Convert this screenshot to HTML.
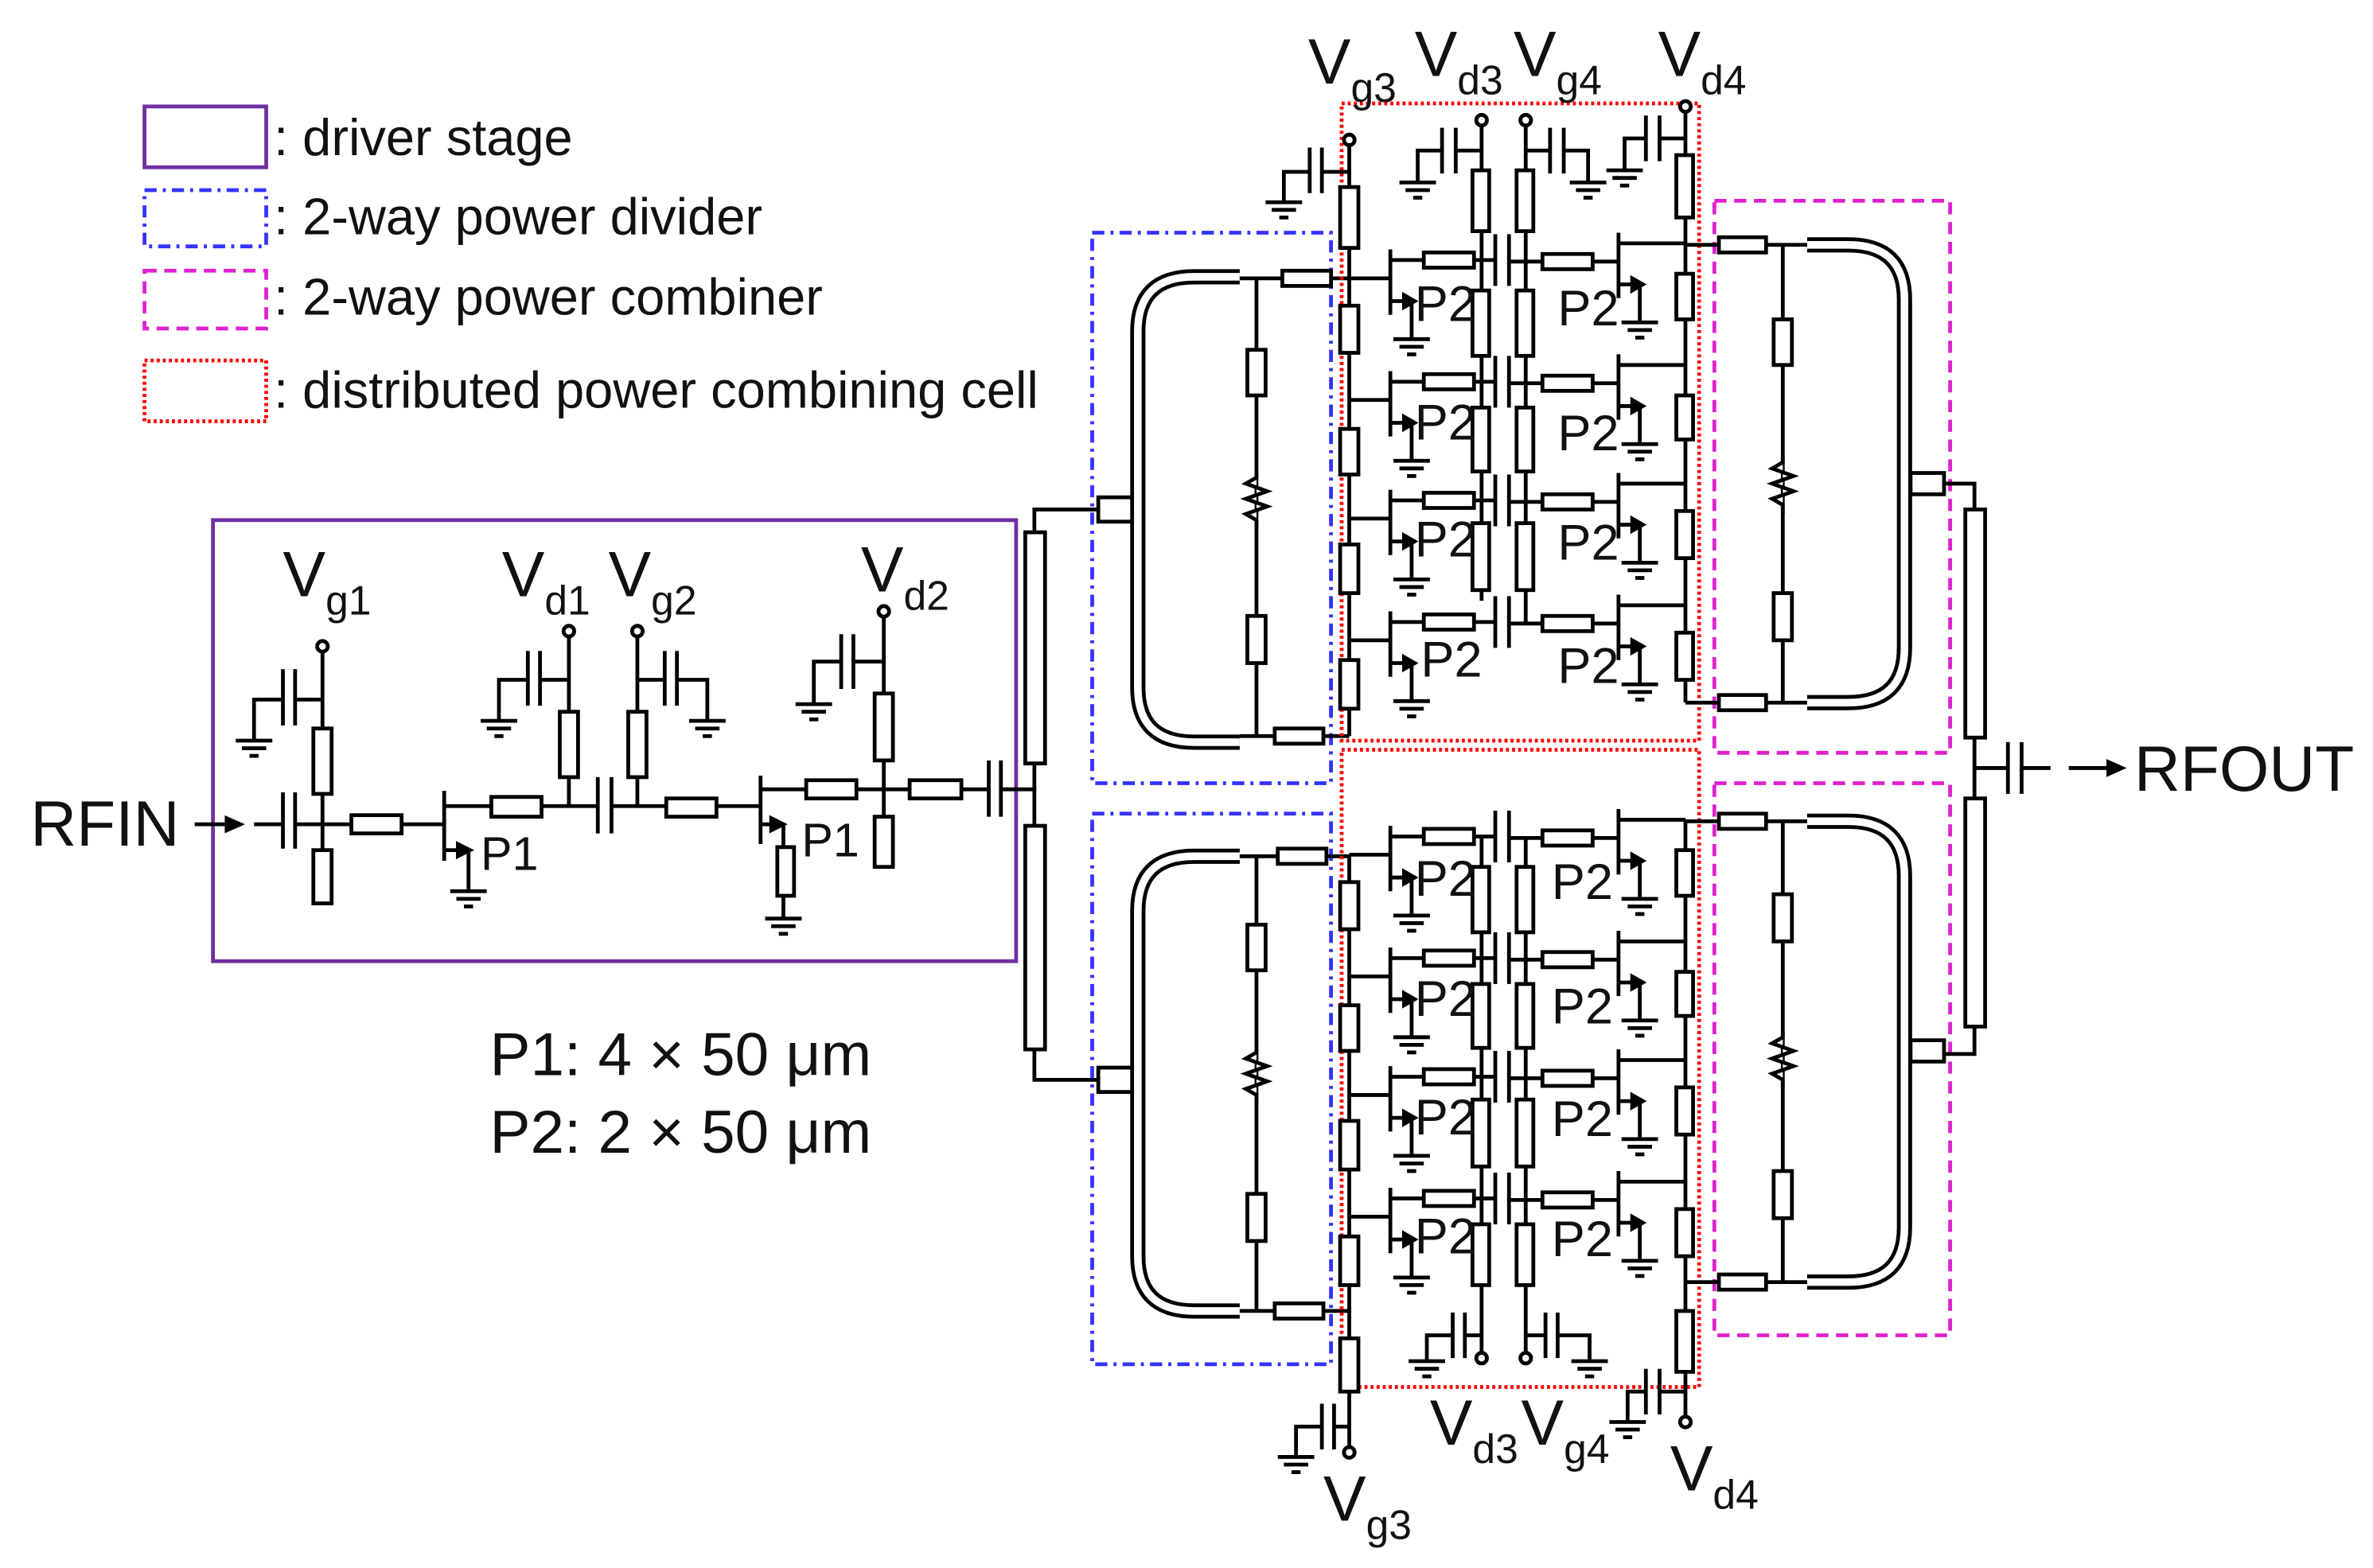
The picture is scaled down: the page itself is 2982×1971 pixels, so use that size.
<!DOCTYPE html>
<html><head><meta charset="utf-8"><style>
html,body{margin:0;padding:0;background:#fff}
svg{display:block}
text{font-family:"Liberation Sans",Arial,sans-serif;fill:#111}
</style></head><body>
<svg width="2982" height="1971" viewBox="0 0 1560 1031" preserveAspectRatio="none" xmlns="http://www.w3.org/2000/svg">
<defs>
<g id="gnd" stroke="#000" stroke-width="2.5"><line x1="-12" y1="0" x2="12" y2="0"/><line x1="-8" y1="5" x2="8" y2="5"/><line x1="-3" y1="10" x2="3" y2="10"/></g>
<g id="tr" stroke="#000" stroke-width="2.5" fill="none"><line x1="0" y1="-19" x2="0" y2="24"/><line x1="0" y1="15" x2="10" y2="15"/><polygon points="16,15 9,11 9,19" fill="#000"/><line x1="14" y1="15" x2="14" y2="40"/><use href="#gnd" x="14" y="40"/></g>
<g id="row" stroke="#000" stroke-width="2.5" fill="none">
 <line x1="887" y1="0" x2="914" y2="0"/>
 <use href="#tr" x="914" y="0"/>
 <line x1="914" y1="-12" x2="983" y2="-12"/>
 <rect x="936" y="-17" width="33" height="10" fill="#fff"/>
 <line x1="983" y1="-29" x2="983" y2="5"/><line x1="992" y1="-29" x2="992" y2="5"/>
 <line x1="992" y1="-11" x2="1064" y2="-11"/>
 <rect x="1014" y="-16" width="33" height="10" fill="#fff"/>
 <use href="#tr" x="1064" y="-11"/>
 <line x1="1064" y1="-23" x2="1108" y2="-23"/>
</g>
</defs>
<g stroke="#000" stroke-width="2.5" fill="none">
<!-- legend -->
<rect x="95" y="70" width="80" height="40" stroke="#7030a0"/>
<rect x="95" y="125" width="80" height="37" stroke="#3333ff" stroke-dasharray="8,4,2,4"/>
<rect x="95" y="178" width="80" height="38" stroke="#e020d0" stroke-dasharray="8,5"/>
<rect x="95" y="237" width="80" height="40" stroke="#ff0000" stroke-dasharray="2,2"/>
<!-- driver box -->
<rect x="140" y="342" width="528" height="290" stroke="#7030a0"/>
<!-- RFIN arrow -->
<line x1="128" y1="542" x2="150" y2="542"/><polygon points="158,542 149,538 149,546" fill="#000"/>
<line x1="167" y1="542" x2="186" y2="542"/>
<line x1="186" y1="521" x2="186" y2="558"/><line x1="194" y1="521" x2="194" y2="558"/>
<line x1="194" y1="542" x2="292" y2="542"/>
<line x1="212" y1="427" x2="212" y2="594"/><circle cx="212" cy="425" r="3.5" fill="#fff"/>
<rect x="206" y="479" width="12" height="43" fill="#fff"/><rect x="206" y="559" width="12" height="35" fill="#fff"/>
<line x1="212" y1="460" x2="194" y2="460"/><line x1="194" y1="440" x2="194" y2="477"/><line x1="186" y1="440" x2="186" y2="477"/><polyline points="186,460 167,460 167,487"/><use href="#gnd" x="167" y="487"/>
<rect x="231" y="536" width="33" height="12" fill="#fff"/>
<line x1="292" y1="520" x2="292" y2="566"/>
<line x1="292" y1="559" x2="302" y2="559"/><polygon points="309,559 301,555 301,563" fill="#000"/><line x1="308" y1="559" x2="308" y2="586"/><use href="#gnd" x="308" y="586"/>
<line x1="292" y1="530" x2="393" y2="530"/><rect x="323" y="524" width="33" height="13" fill="#fff"/>
<line x1="374" y1="418" x2="374" y2="530"/><circle cx="374" cy="415" r="3.5" fill="#fff"/><rect x="368" y="468" width="12" height="43" fill="#fff"/>
<line x1="374" y1="447" x2="355" y2="447"/><line x1="355" y1="428" x2="355" y2="464"/><line x1="347" y1="428" x2="347" y2="464"/><polyline points="347,447 328,447 328,474"/><use href="#gnd" x="328" y="474"/>
<line x1="393" y1="511" x2="393" y2="548"/><line x1="402" y1="511" x2="402" y2="548"/>
<line x1="402" y1="530" x2="500" y2="530"/>
<line x1="419" y1="418" x2="419" y2="530"/><circle cx="419" cy="415" r="3.5" fill="#fff"/><rect x="413" y="468" width="12" height="43" fill="#fff"/>
<line x1="419" y1="447" x2="437" y2="447"/><line x1="437" y1="428" x2="437" y2="464"/><line x1="445" y1="428" x2="445" y2="464"/><polyline points="445,447 465,447 465,474"/><use href="#gnd" x="465" y="474"/>
<rect x="438" y="525" width="33" height="12" fill="#fff"/>
<line x1="500" y1="510" x2="500" y2="555"/>
<line x1="500" y1="542" x2="508" y2="542"/><polygon points="515,542 507,538 507,546" fill="#000"/><line x1="515" y1="542" x2="515" y2="604"/><rect x="511" y="557" width="11" height="32" fill="#fff"/><use href="#gnd" x="515" y="604"/>
<line x1="500" y1="519" x2="650" y2="519"/><rect x="530" y="513" width="33" height="12" fill="#fff"/><rect x="598" y="513" width="34" height="12" fill="#fff"/>
<line x1="581" y1="405" x2="581" y2="570"/><circle cx="581" cy="402" r="3.5" fill="#fff"/><rect x="575" y="456" width="12" height="44" fill="#fff"/><rect x="575" y="537" width="12" height="33" fill="#fff"/>
<line x1="581" y1="435" x2="561" y2="435"/><line x1="561" y1="417" x2="561" y2="453"/><line x1="553" y1="417" x2="553" y2="453"/><polyline points="553,435 535,435 535,463"/><use href="#gnd" x="535" y="463"/>
<line x1="650" y1="500" x2="650" y2="537"/><line x1="658" y1="500" x2="658" y2="537"/><line x1="658" y1="519" x2="680" y2="519"/>
<!-- TL pair to dividers -->
<polyline points="722,335 680,335 680,710 722,710"/>
<rect x="674" y="350" width="13" height="152" fill="#fff"/><rect x="674" y="543" width="13" height="147" fill="#fff"/>
<!-- divider boxes -->
<rect x="718" y="153" width="157" height="362" stroke="#3333ff" stroke-dasharray="8,4,2,4"/>
<rect x="718" y="535" width="157" height="362" stroke="#3333ff" stroke-dasharray="8,4,2,4"/>
<!-- upper divider -->
<rect x="722" y="327" width="24" height="16" fill="#fff"/>
<path d="M815,182 H785 Q748,182 748,218 V452 Q748,488 785,488 H815" stroke-width="10"/>
<path d="M815,182 H785 Q748,182 748,218 V452 Q748,488 785,488 H815" stroke="#fff" stroke-width="5"/>
<line x1="815" y1="183" x2="887" y2="183"/><line x1="815" y1="484" x2="887" y2="484"/>
<rect x="843" y="178" width="32" height="10" fill="#fff"/><rect x="838" y="479" width="32" height="10" fill="#fff"/>
<line x1="826" y1="183" x2="826" y2="484"/><rect x="820" y="230" width="12" height="30" fill="#fff"/><rect x="820" y="405" width="12" height="31" fill="#fff"/>
<polyline points="826,310 826,314 819,318 833,323 819,328 833,333 819,338 826,342 826,348" fill="#fff"/>
<!-- lower divider -->
<rect x="722" y="702" width="24" height="16" fill="#fff"/>
<path d="M815,563 H785 Q748,563 748,599 V826 Q748,862 785,862 H815" stroke-width="10"/>
<path d="M815,563 H785 Q748,563 748,599 V826 Q748,862 785,862 H815" stroke="#fff" stroke-width="5"/>
<line x1="815" y1="563" x2="887" y2="563"/><line x1="815" y1="862" x2="887" y2="862"/>
<rect x="840" y="558" width="32" height="10" fill="#fff"/><rect x="838" y="857" width="32" height="10" fill="#fff"/>
<line x1="826" y1="563" x2="826" y2="862"/><rect x="820" y="608" width="12" height="30" fill="#fff"/><rect x="820" y="785" width="12" height="31" fill="#fff"/>
<polyline points="826,688 826,692 819,696 833,701 819,706 833,711 819,716 826,720 826,726" fill="#fff"/>
<!-- cells boxes -->
<rect x="882" y="68" width="235" height="419" stroke="#ff0000" stroke-dasharray="2,2"/>
<rect x="882" y="493" width="235" height="419" stroke="#ff0000" stroke-dasharray="2,2"/>
<!-- upper cell vertical lines -->
<line x1="887" y1="95" x2="887" y2="484"/><circle cx="887" cy="92" r="3.5" fill="#fff"/>
<rect x="881" y="123" width="12" height="40" fill="#fff"/><rect x="881" y="201" width="12" height="31" fill="#fff"/><rect x="881" y="282" width="12" height="30" fill="#fff"/><rect x="881" y="358" width="12" height="32" fill="#fff"/><rect x="881" y="434" width="12" height="32" fill="#fff"/>
<line x1="974" y1="82" x2="974" y2="395"/><circle cx="974" cy="79" r="3.5" fill="#fff"/>
<line x1="1003" y1="82" x2="1003" y2="410"/><circle cx="1003" cy="79" r="3.5" fill="#fff"/>
<rect x="968" y="112" width="11" height="40" fill="#fff"/><rect x="968" y="191" width="11" height="43" fill="#fff"/><rect x="968" y="268" width="11" height="42" fill="#fff"/><rect x="968" y="344" width="11" height="44" fill="#fff"/>
<rect x="997" y="112" width="11" height="40" fill="#fff"/><rect x="997" y="191" width="11" height="43" fill="#fff"/><rect x="997" y="268" width="11" height="42" fill="#fff"/><rect x="997" y="344" width="11" height="44" fill="#fff"/>
<line x1="1108" y1="73" x2="1108" y2="462"/><circle cx="1108" cy="70" r="3.5" fill="#fff"/>
<rect x="1102" y="102" width="11" height="41" fill="#fff"/><rect x="1102" y="180" width="11" height="30" fill="#fff"/><rect x="1102" y="260" width="11" height="29" fill="#fff"/><rect x="1102" y="336" width="11" height="31" fill="#fff"/><rect x="1102" y="416" width="11" height="31" fill="#fff"/>
<!-- upper bias caps -->
<line x1="887" y1="113" x2="869" y2="113"/><line x1="869" y1="97" x2="869" y2="127"/><line x1="861" y1="97" x2="861" y2="127"/><polyline points="861,113 844,113 844,133"/><use href="#gnd" x="844" y="133"/>
<line x1="974" y1="99" x2="957" y2="99"/><line x1="957" y1="84" x2="957" y2="114"/><line x1="948" y1="84" x2="948" y2="114"/><polyline points="948,99 932,99 932,120"/><use href="#gnd" x="932" y="120"/>
<line x1="1003" y1="99" x2="1019" y2="99"/><line x1="1019" y1="84" x2="1019" y2="114"/><line x1="1028" y1="84" x2="1028" y2="114"/><polyline points="1028,99 1044,99 1044,120"/><use href="#gnd" x="1044" y="120"/>
<line x1="1108" y1="91" x2="1091" y2="91"/><line x1="1091" y1="76" x2="1091" y2="106"/><line x1="1082" y1="76" x2="1082" y2="106"/><polyline points="1082,91 1068,91 1068,112"/><use href="#gnd" x="1068" y="112"/>
<use href="#row" x="0" y="183"/><use href="#row" x="0" y="263"/><use href="#row" x="0" y="341"/><use href="#row" x="0" y="421"/>
<!-- lower cell -->
<line x1="887" y1="563" x2="887" y2="952"/><circle cx="887" cy="955" r="3.5" fill="#fff"/>
<rect x="881" y="580" width="12" height="31" fill="#fff"/><rect x="881" y="661" width="12" height="30" fill="#fff"/><rect x="881" y="737" width="12" height="32" fill="#fff"/><rect x="881" y="813" width="12" height="32" fill="#fff"/><rect x="881" y="880" width="12" height="35" fill="#fff"/>
<line x1="974" y1="550" x2="974" y2="890"/><circle cx="974" cy="893" r="3.5" fill="#fff"/>
<line x1="1003" y1="551" x2="1003" y2="890"/><circle cx="1003" cy="893" r="3.5" fill="#fff"/>
<rect x="968" y="570" width="11" height="43" fill="#fff"/><rect x="968" y="647" width="11" height="42" fill="#fff"/><rect x="968" y="723" width="11" height="44" fill="#fff"/><rect x="968" y="805" width="11" height="40" fill="#fff"/>
<rect x="997" y="570" width="11" height="43" fill="#fff"/><rect x="997" y="647" width="11" height="42" fill="#fff"/><rect x="997" y="723" width="11" height="44" fill="#fff"/><rect x="997" y="805" width="11" height="40" fill="#fff"/>
<line x1="1108" y1="540" x2="1108" y2="932"/><circle cx="1108" cy="935" r="3.5" fill="#fff"/>
<rect x="1102" y="559" width="11" height="30" fill="#fff"/><rect x="1102" y="639" width="11" height="29" fill="#fff"/><rect x="1102" y="715" width="11" height="31" fill="#fff"/><rect x="1102" y="795" width="11" height="31" fill="#fff"/><rect x="1102" y="862" width="11" height="40" fill="#fff"/>
<line x1="887" y1="938" x2="877" y2="938"/><line x1="877" y1="923" x2="877" y2="953"/><line x1="869" y1="923" x2="869" y2="953"/><polyline points="869,938 852,938 852,958"/><use href="#gnd" x="852" y="958"/>
<line x1="974" y1="878" x2="963" y2="878"/><line x1="963" y1="863" x2="963" y2="893"/><line x1="955" y1="863" x2="955" y2="893"/><polyline points="955,878 938,878 938,895"/><use href="#gnd" x="938" y="895"/>
<line x1="1003" y1="878" x2="1016" y2="878"/><line x1="1016" y1="863" x2="1016" y2="893"/><line x1="1024" y1="863" x2="1024" y2="893"/><polyline points="1024,878 1045,878 1045,895"/><use href="#gnd" x="1045" y="895"/>
<line x1="1108" y1="915" x2="1091" y2="915"/><line x1="1091" y1="900" x2="1091" y2="930"/><line x1="1082" y1="900" x2="1082" y2="930"/><polyline points="1082,915 1070,915 1070,935"/><use href="#gnd" x="1070" y="935"/>
<use href="#row" x="0" y="562"/><use href="#row" x="0" y="642"/><use href="#row" x="0" y="720"/><use href="#row" x="0" y="800"/>
<!-- combiner boxes -->
<rect x="1127" y="132" width="155" height="363" stroke="#e020d0" stroke-dasharray="8,5"/>
<rect x="1127" y="515" width="155" height="363" stroke="#e020d0" stroke-dasharray="8,5"/>
<!-- upper combiner -->
<line x1="1108" y1="161" x2="1190" y2="161"/><line x1="1108" y1="462" x2="1190" y2="462"/>
<rect x="1130" y="156" width="31" height="10" fill="#fff"/><rect x="1130" y="457" width="31" height="10" fill="#fff"/>
<line x1="1172" y1="161" x2="1172" y2="462"/><rect x="1166" y="210" width="12" height="30" fill="#fff"/><rect x="1166" y="390" width="12" height="31" fill="#fff"/>
<polyline points="1172,300 1172,304 1165,308 1179,313 1165,318 1179,323 1165,328 1172,332 1172,338" fill="#fff"/>
<path d="M1188,161 H1215 Q1252,161 1252,197 V426 Q1252,462 1215,462 H1188" stroke-width="10"/>
<path d="M1188,161 H1215 Q1252,161 1252,197 V426 Q1252,462 1215,462 H1188" stroke="#fff" stroke-width="5"/>
<rect x="1256" y="311" width="22" height="14" fill="#fff"/>
<!-- lower combiner -->
<line x1="1108" y1="540" x2="1190" y2="540"/><line x1="1108" y1="843" x2="1190" y2="843"/>
<rect x="1130" y="535" width="31" height="10" fill="#fff"/><rect x="1130" y="838" width="31" height="10" fill="#fff"/>
<line x1="1172" y1="540" x2="1172" y2="843"/><rect x="1166" y="588" width="12" height="31" fill="#fff"/><rect x="1166" y="770" width="12" height="31" fill="#fff"/>
<polyline points="1172,678 1172,682 1165,686 1179,691 1165,696 1179,701 1165,706 1172,710 1172,716" fill="#fff"/>
<path d="M1188,540 H1215 Q1252,540 1252,576 V807 Q1252,843 1215,843 H1188" stroke-width="10"/>
<path d="M1188,540 H1215 Q1252,540 1252,576 V807 Q1252,843 1215,843 H1188" stroke="#fff" stroke-width="5"/>
<rect x="1256" y="684" width="22" height="14" fill="#fff"/>
<!-- output TLs -->
<polyline points="1278,318 1298,318 1298,693 1278,693"/>
<rect x="1292" y="335" width="13" height="150" fill="#fff"/><rect x="1292" y="525" width="13" height="150" fill="#fff"/>
<line x1="1298" y1="505" x2="1320" y2="505"/><line x1="1320" y1="488" x2="1320" y2="522"/><line x1="1329" y1="488" x2="1329" y2="522"/><line x1="1329" y1="505" x2="1348" y2="505"/>
<line x1="1360" y1="505" x2="1386" y2="505"/><polygon points="1395,505 1386,501 1386,509" fill="#000"/>
</g>
<!-- text -->
<g font-size="34">
<text x="180" y="102">: driver stage</text>
<text x="180" y="154">: 2-way power divider</text>
<text x="180" y="207">: 2-way power combiner</text>
<text x="180" y="268">: distributed power combining cell</text>
</g>
<text x="20" y="556" font-size="42">RFIN</text>
<text x="1403" y="520" font-size="42">RFOUT</text>
<text x="322" y="707" font-size="40">P1: 4 × 50 μm</text>
<text x="322" y="758" font-size="40">P2: 2 × 50 μm</text>
<g font-size="31"><text x="316" y="572">P1</text><text x="527" y="563">P1</text></g>
<g font-size="33">
<text x="930" y="211">P2</text><text x="1024" y="214">P2</text>
<text x="930" y="289">P2</text><text x="1024" y="296">P2</text>
<text x="930" y="366">P2</text><text x="1024" y="368">P2</text>
<text x="934" y="445">P2</text><text x="1024" y="449">P2</text>
<text x="930" y="589">P2</text><text x="1020" y="591">P2</text>
<text x="930" y="668">P2</text><text x="1020" y="673">P2</text>
<text x="930" y="746">P2</text><text x="1020" y="747">P2</text>
<text x="930" y="824">P2</text><text x="1020" y="826">P2</text>
</g>
<g font-size="42">
<text x="186" y="392">V<tspan font-size="27" dy="12">g1</tspan></text>
<text x="330" y="392">V<tspan font-size="27" dy="12">d1</tspan></text>
<text x="400" y="392">V<tspan font-size="27" dy="12">g2</tspan></text>
<text x="566" y="389">V<tspan font-size="27" dy="12">d2</tspan></text>
<text x="860" y="55">V<tspan font-size="27" dy="12">g3</tspan></text>
<text x="930" y="50">V<tspan font-size="27" dy="12">d3</tspan></text>
<text x="995" y="50">V<tspan font-size="27" dy="12">g4</tspan></text>
<text x="1090" y="50">V<tspan font-size="27" dy="12">d4</tspan></text>
<text x="940" y="950">V<tspan font-size="27" dy="12">d3</tspan></text>
<text x="1000" y="950">V<tspan font-size="27" dy="12">g4</tspan></text>
<text x="870" y="1000">V<tspan font-size="27" dy="12">g3</tspan></text>
<text x="1098" y="980">V<tspan font-size="27" dy="12">d4</tspan></text>
</g>
</svg>
</body></html>
